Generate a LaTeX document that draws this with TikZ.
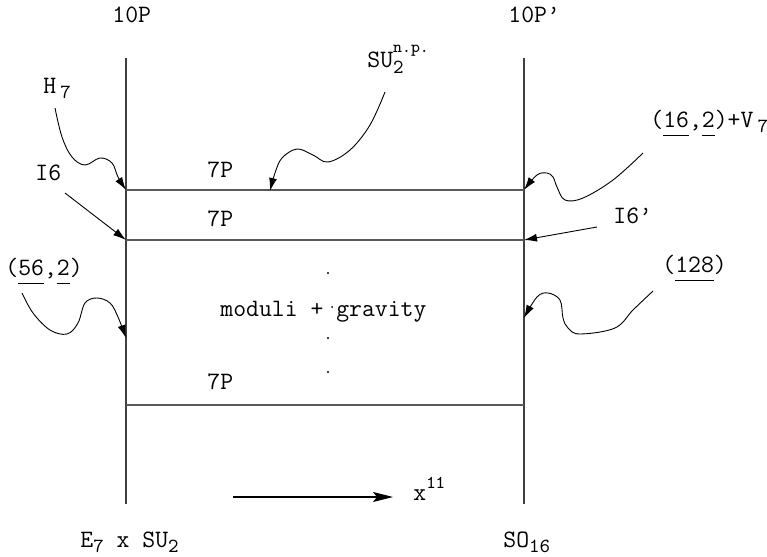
\documentclass[tikz,border=0pt]{standalone}
\usepackage{fontspec}
\usetikzlibrary{arrows.meta}
\newcommand\udl[1]{\underline{#1\vphantom{y}}}
\newcommand\lo[1]{\raisebox{-2.5pt}{\fontsize{10}{10}\selectfont#1}}
\newcommand\hi[1]{\raisebox{6pt}{\fontsize{9}{10}\selectfont#1}}

\begin{document}
\begin{tikzpicture}[x=0.5pt,y=-0.5pt,
  font=\ttfamily\fontsize{12.5}{15}\selectfont,
  wall/.style={line width=1pt,black!75},
  brane/.style={line width=0.7pt,black!65},
  wiggle/.style={line width=0.45pt,-{Latex[length=6.5pt,width=4pt]}},
  lbl/.style={inner sep=0pt,anchor=base west}]
\useasboundingbox (0,0) rectangle (767,557);

% the two end-of-world walls and the 7-branes
\coordinate (lt) at (126,58);  \coordinate (lb) at (126,504);
\coordinate (rt) at (524,58);  \coordinate (rb) at (524,504);
\coordinate (l1) at (126,190); \coordinate (r1) at (524,190);
\coordinate (l2) at (126,240); \coordinate (r2) at (524,240);
\coordinate (l3) at (126,405); \coordinate (r3) at (524,405);
\draw[wall] (lt)--(lb);
\draw[wall] (rt)--(rb);
\draw[brane] (l1)--(r1);
\draw[brane] (l2)--(r2);
\draw[brane] (l3)--(r3);

\node[lbl] (tenl) at (112,22) {10P};
\node[lbl] (tenr) at (508,22) {10P’};
\node[lbl] (sevena) at (207,177) {7P};
\node[lbl] (sevenb) at (207,226) {7P};
\node[lbl] (sevenc) at (207,389) {7P};
\node[lbl] (bulk) at (220,316) {moduli + gravity};
\foreach \py in {273,338,372} \fill (328,\py) circle (1.2);
\fill (332,307) circle (1);
\node[lbl] (gl) at (80,547) {E\lo{7} x SU\lo{2}};
\node[lbl] (gr) at (503,547) {SO\lo{16}};

% labels and their arrows
\node[lbl] (h7) at (43,93) {H\,\lo{7}};
\node[lbl] (isix) at (35,180) {I6};
\node[lbl] (ftsix) at (5,275) {(\udl{56},\udl{2})};
\node[lbl] (np) at (367,68) {SU\rlap{\lo{2}}\raisebox{7.5pt}{\fontsize{8.5}{10}\selectfont n.p.}};
\node[lbl] (sixt) at (650,127) {(\udl{16},\udl{2})+V\,\lo{7}};
\node[lbl] (isixp) at (613,223) {I6’};
\node[lbl] (spin) at (662,272) {(\udl{128})};
\coordinate (np1) at (270,191);
\coordinate (sp1) at (524,318);
\coordinate (fl1) at (126,338);

\draw[wiggle] plot[smooth,tension=0.6] coordinates {(55,108) (62,137) (72,157) (85,165) (100,158) (112,163) (118,177) (l1)};
\draw[wiggle] (65,193)--(l2);
\draw[wiggle] plot[smooth,tension=0.6] coordinates {(22,293) (33,313) (50,330) (67,334) (78,323) (85,303) (97,298) (110,303) (118,317) (fl1)};
\draw[wiggle] plot[smooth,tension=0.6] coordinates {(385,92) (370,125) (350,150) (328,162) (313,155) (297,149) (282,158) (275,173) (np1)};
\draw[wiggle] plot[smooth,tension=0.6] coordinates {(643,153) (613,180) (583,198) (565,200) (557,187) (553,177) (547,173) (537,175) (r1)};
\draw[wiggle] (597,227)--(r2);
\draw[wiggle] plot[smooth,tension=0.6] coordinates {(653,291) (633,310) (615,328) (580,334) (568,328) (563,318) (560,300) (548,293) (537,297) (sp1)};

% direction of x^11
\node[lbl] (xel) at (413,500) {x\hi{11}};
\coordinate (xs) at (233,497);
\draw[line width=0.6pt,-{Stealth[length=10pt,width=5pt,inset=2pt]}] (xs)--(393,497);
\end{tikzpicture}
\end{document}
